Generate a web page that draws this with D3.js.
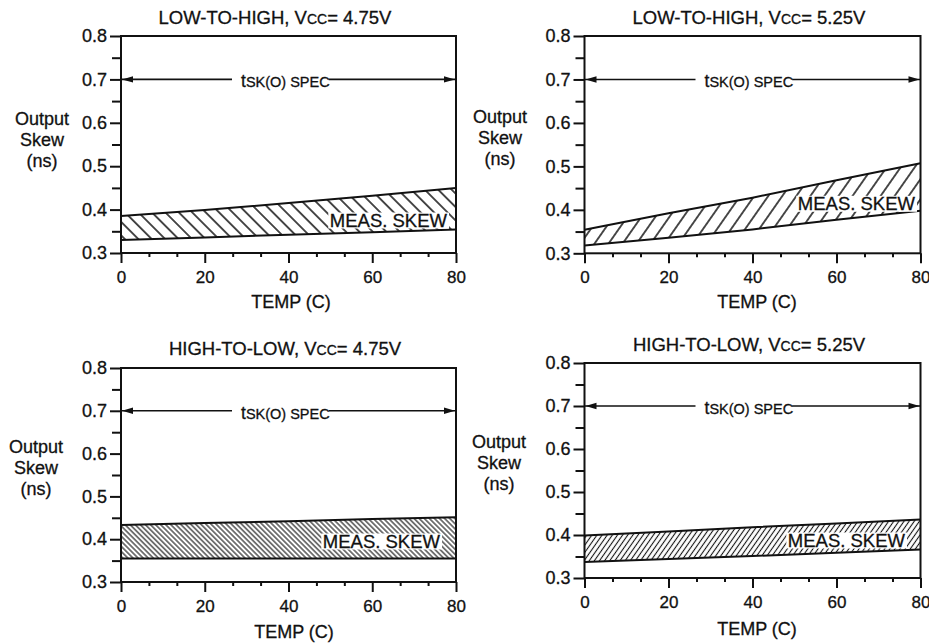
<!DOCTYPE html>
<html>
<head>
<meta charset="utf-8">
<script src="https://cdn.jsdelivr.net/npm/d3@7"></script>
<style>
  html, body { margin: 0; padding: 0; background: #fff; }
  svg { display: block; font-family: "Liberation Sans", Arial, Helvetica, sans-serif; }
  svg text { stroke: #111; stroke-width: 0.3; }
</style>
</head>
<body>
<svg id="chart" width="929" height="643"></svg>
<script>
// ---- data ----
const temps = [0, 20, 40, 60, 80];                 // TEMP (C)
const xTickValues = [0, 20, 40, 60, 80];
const xMinorTicks = [20/3, 40/3, 80/3, 100/3, 140/3, 160/3, 200/3, 220/3];
const yTickValues = [0.3, 0.4, 0.5, 0.6, 0.7, 0.8];
const yMinorTicks = [0.35, 0.45, 0.55, 0.65, 0.75];
const specLimit = 0.7;                               // tSK(O) spec, ns

const transitions = ["LOW-TO-HIGH", "LOW-TO-HIGH", "HIGH-TO-LOW", "HIGH-TO-LOW"];
const vccLevels = ["4.75V", "5.25V", "4.75V", "5.25V"];

// measured skew envelope (ns) at each temperature
const skewHiLH475 = [0.385, 0.399, 0.415, 0.432, 0.450];
const skewLoLH475 = [0.330, 0.336, 0.342, 0.348, 0.354];
const skewHiLH525 = [0.354, 0.392, 0.428, 0.468, 0.507];
const skewLoLH525 = [0.318, 0.336, 0.355, 0.377, 0.398];
const skewHiHL475 = [0.433, 0.438, 0.442, 0.447, 0.451];
const skewLoHL475 = [0.355, 0.355, 0.355, 0.355, 0.355];
const skewHiHL525 = [0.399, 0.408, 0.418, 0.427, 0.436];
const skewLoHL525 = [0.337, 0.344, 0.351, 0.359, 0.366];

// ---- layout ----
const panels = [
  { hi: skewHiLH475, lo: skewLoLH475, box: { l: 121, r: 456, t: 36, b: 253 },
    title: { x: 275, y: 24 }, xlab: { x: 291, y: 308 }, ylab: { x: 42, y: 125 },
    meas: { dx: -9, dy: -26 }, hatch: { angle: -45, gap: 9.5, w: 1.5 } },
  { hi: skewHiLH525, lo: skewLoLH525, box: { l: 584.5, r: 920.5, t: 36, b: 253.3 },
    title: { x: 749, y: 24 }, xlab: { x: 757, y: 308 }, ylab: { x: 500, y: 123 },
    meas: { dx: -5.5, dy: -43 }, hatch: { angle: 35, gap: 11.5, w: 1.5 } },
  { hi: skewHiHL475, lo: skewLoHL475, box: { l: 121, r: 456, t: 368, b: 582 },
    title: { x: 285, y: 355 }, xlab: { x: 294, y: 638 }, ylab: { x: 36, y: 453 },
    meas: { dx: -16, dy: -34 }, hatch: { angle: -45, gap: 3.6, w: 1.1 } },
  { hi: skewHiHL525, lo: skewLoHL525, box: { l: 584.5, r: 920.5, t: 363, b: 578 },
    title: { x: 749, y: 351 }, xlab: { x: 757, y: 635 }, ylab: { x: 499, y: 448 },
    meas: { dx: -15.5, dy: -31 }, hatch: { angle: 35, gap: 4.2, w: 1.1 } }
];

const ink = "#111";
const svg = d3.select("#chart");
const defs = svg.append("defs");

panels.forEach((p, i) => {
  const x = d3.scaleLinear().domain([0, 80]).range([p.box.l, p.box.r]);
  const y = d3.scaleLinear().domain([0.3, 0.8]).range([p.box.b, p.box.t]);
  const g = svg.append("g");

  // hatch pattern
  const pid = "hatch" + i;
  defs.append("pattern")
    .attr("id", pid)
    .attr("patternUnits", "userSpaceOnUse")
    .attr("width", p.hatch.gap).attr("height", p.hatch.gap)
    .attr("patternTransform", `rotate(${p.hatch.angle})`)
    .append("line")
    .attr("x1", p.hatch.gap / 2).attr("y1", -1)
    .attr("x2", p.hatch.gap / 2).attr("y2", p.hatch.gap + 1)
    .attr("stroke", ink).attr("stroke-width", p.hatch.w);

  const rows = temps.map((t, k) => ({ t, hi: p.hi[k], lo: p.lo[k] }));

  // measured skew band
  g.append("path")
    .datum(rows)
    .attr("d", d3.area().x(d => x(d.t)).y0(d => y(d.lo)).y1(d => y(d.hi)))
    .attr("fill", `url(#${pid})`);
  ["hi", "lo"].forEach(key => {
    g.append("path")
      .datum(rows)
      .attr("d", d3.line().x(d => x(d.t)).y(d => y(d[key])))
      .attr("fill", "none").attr("stroke", ink).attr("stroke-width", 2);
  });

  // MEAS. SKEW label on a white backing
  const lab = g.append("text")
    .attr("x", p.box.r + p.meas.dx).attr("y", p.box.b + p.meas.dy)
    .attr("text-anchor", "end")
    .attr("font-size", 18.5).attr("fill", ink)
    .text("MEAS. SKEW");
  const bb = lab.node().getBBox();
  g.insert("rect", "text")
    .attr("x", bb.x - 1.5).attr("y", bb.y + 2.5)
    .attr("width", bb.width + 3).attr("height", bb.height - 5)
    .attr("fill", "#fff");

  // frame
  g.append("rect")
    .attr("x", p.box.l).attr("y", p.box.t)
    .attr("width", p.box.r - p.box.l).attr("height", p.box.b - p.box.t)
    .attr("fill", "none").attr("stroke", ink).attr("stroke-width", 2);

  // axes
  const yAxis = g.append("g").attr("transform", `translate(${p.box.l},0)`)
    .call(d3.axisLeft(y).tickValues(yTickValues).tickSize(11).tickPadding(3)
      .tickFormat(d3.format(".1f")));
  const yMinor = g.append("g").attr("transform", `translate(${p.box.l},0)`)
    .call(d3.axisLeft(y).tickValues(yMinorTicks).tickSize(9).tickFormat(""));
  const xAxis = g.append("g").attr("transform", `translate(0,${p.box.b})`)
    .call(d3.axisBottom(x).tickValues(xTickValues).tickSize(10).tickPadding(8)
      .tickFormat(d3.format("d")));
  const xMinor = g.append("g").attr("transform", `translate(0,${p.box.b})`)
    .call(d3.axisBottom(x).tickValues(xMinorTicks).tickSize(4).tickFormat(""));
  [yAxis, yMinor, xAxis, xMinor].forEach(a => {
    a.select(".domain").remove();
    a.selectAll("line").attr("stroke", ink).attr("stroke-width", 2);
    a.attr("font-family", null);
    a.selectAll("text").attr("fill", ink);
  });
  yAxis.attr("font-size", 18);
  xAxis.attr("font-size", 17);

  // tSK(O) spec arrow
  const ys = y(specLimit);
  const txStart = p.box.l + 120;
  const spec = g.append("text")
    .attr("x", txStart).attr("y", ys + 8)
    .attr("fill", ink);
  spec.append("tspan").attr("font-size", 17.5).text("t");
  spec.append("tspan").attr("font-size", 14.5).text("SK(O) SPEC");
  const sbb = spec.node().getBBox();
  g.append("line")
    .attr("x1", p.box.l).attr("x2", txStart - 9)
    .attr("y1", ys).attr("y2", ys)
    .attr("stroke", ink).attr("stroke-width", 1.6);
  g.append("line")
    .attr("x1", sbb.x + sbb.width - 1).attr("x2", p.box.r)
    .attr("y1", ys).attr("y2", ys)
    .attr("stroke", ink).attr("stroke-width", 1.6);
  const head = (tip, dir) =>
    `M${tip},${ys} L${tip + dir * 11},${ys - 3.2} L${tip + dir * 11},${ys + 3.2} Z`;
  g.append("path").attr("d", head(p.box.l + 1, 1)).attr("fill", ink);
  g.append("path").attr("d", head(p.box.r - 1, -1)).attr("fill", ink);

  // title
  const title = g.append("text")
    .attr("x", p.title.x).attr("y", p.title.y)
    .attr("text-anchor", "middle").attr("font-size", 18.5).attr("fill", ink);
  title.append("tspan").text(transitions[i] + ", V");
  title.append("tspan").attr("font-size", 14).text("CC");
  title.append("tspan").text("= " + vccLevels[i]);

  // axis titles
  g.append("text")
    .attr("x", p.xlab.x).attr("y", p.xlab.y)
    .attr("text-anchor", "middle").attr("font-size", 18).attr("fill", ink)
    .text("TEMP (C)");
  const yl = g.append("text")
    .attr("text-anchor", "middle").attr("font-size", 18).attr("fill", ink);
  ["Output", "Skew", "(ns)"].forEach((s, k) => {
    yl.append("tspan").attr("x", p.ylab.x).attr("y", p.ylab.y + k * 20.8).text(s);
  });
});
</script>
</body>
</html>
